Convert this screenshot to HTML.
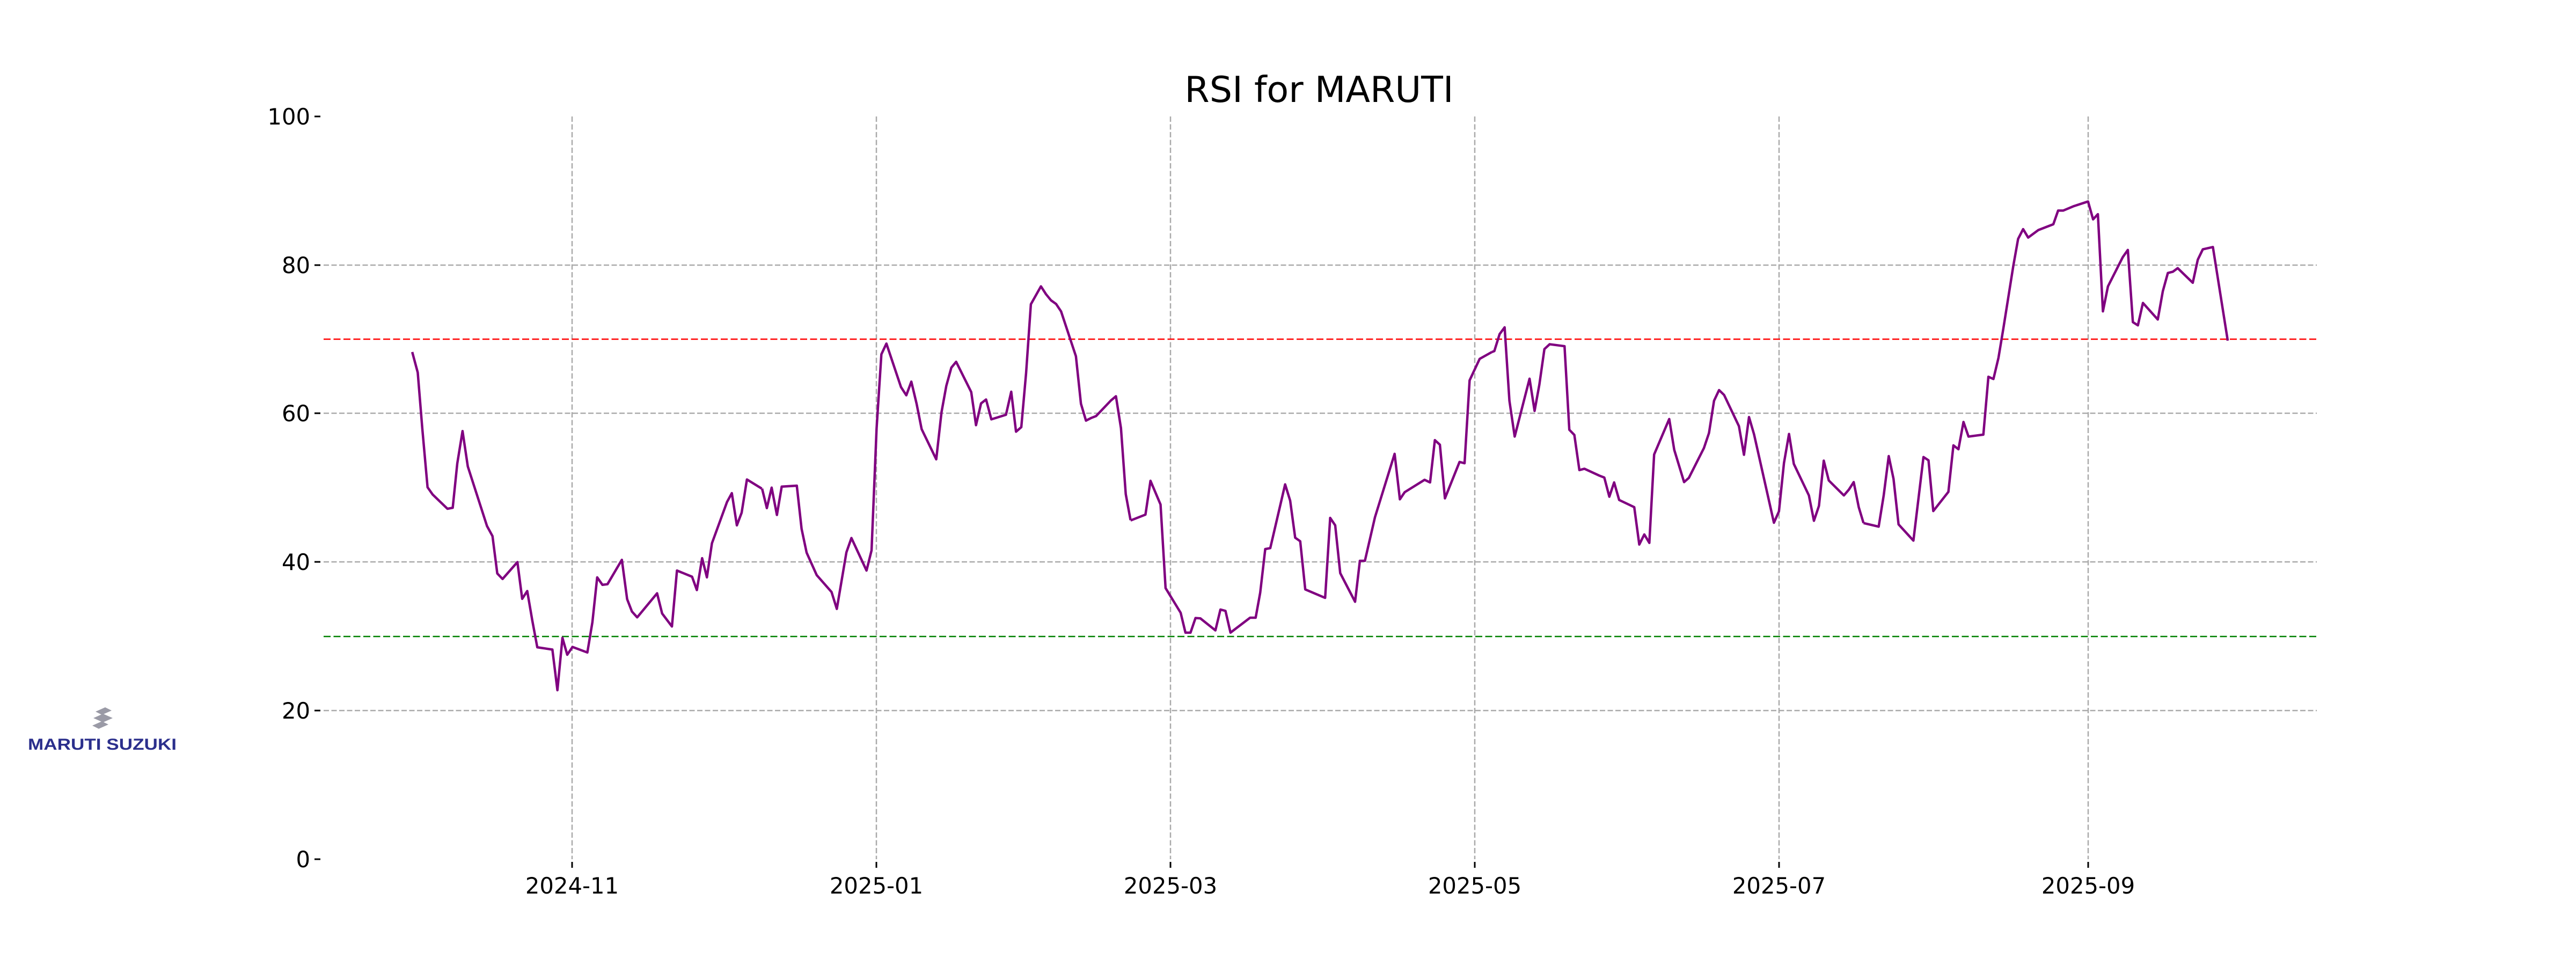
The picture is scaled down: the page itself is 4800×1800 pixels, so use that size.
<!DOCTYPE html>
<html><head><meta charset="utf-8"><style>
html,body{margin:0;padding:0;background:#fff;}
svg{display:block;}
</style></head><body>
<svg width="4800" height="1800" viewBox="0 0 4800 1800" xmlns="http://www.w3.org/2000/svg" font-family="'DejaVu Sans','Liberation Sans',sans-serif">
<rect width="4800" height="1800" fill="#fff"/>
<text x="2458" y="190" font-size="66.7" text-anchor="middle" fill="#000">RSI for MARUTI</text>
<!-- horizontal grid -->
<g stroke="#aaaaaa" stroke-width="2.5" stroke-dasharray="10,4.5" fill="none">
<line x1="603" y1="494" x2="4317" y2="494"/>
<line x1="603" y1="770" x2="4317" y2="770"/>
<line x1="603" y1="1047" x2="4317" y2="1047"/>
<line x1="603" y1="1324" x2="4317" y2="1324"/>
<line x1="1066" y1="217" x2="1066" y2="1601"/>
<line x1="1633" y1="217" x2="1633" y2="1601"/>
<line x1="2181" y1="217" x2="2181" y2="1601"/>
<line x1="2748" y1="217" x2="2748" y2="1601"/>
<line x1="3315" y1="217" x2="3315" y2="1601"/>
<line x1="3891" y1="217" x2="3891" y2="1601"/>
</g>
<line x1="603" y1="632" x2="4317" y2="632" stroke="#ff0000" stroke-width="2.5" stroke-dasharray="13,5.5"/>
<line x1="603" y1="1186" x2="4317" y2="1186" stroke="#008000" stroke-width="2.5" stroke-dasharray="13,5.5"/>
<!-- y ticks -->
<g font-size="41.7" fill="#000" text-anchor="end">
<text x="578" y="232">100</text>
<text x="578" y="509">80</text>
<text x="578" y="785">60</text>
<text x="578" y="1062">40</text>
<text x="578" y="1339">20</text>
<text x="578" y="1616">0</text>
</g>
<g stroke="#000" stroke-width="3">
<line x1="586" y1="217" x2="597" y2="217"/>
<line x1="586" y1="494" x2="597" y2="494"/>
<line x1="586" y1="770" x2="597" y2="770"/>
<line x1="586" y1="1047" x2="597" y2="1047"/>
<line x1="586" y1="1324" x2="597" y2="1324"/>
<line x1="586" y1="1601" x2="597" y2="1601"/>
<line x1="1066" y1="1606" x2="1066" y2="1617"/>
<line x1="1633" y1="1606" x2="1633" y2="1617"/>
<line x1="2181" y1="1606" x2="2181" y2="1617"/>
<line x1="2748" y1="1606" x2="2748" y2="1617"/>
<line x1="3315" y1="1606" x2="3315" y2="1617"/>
<line x1="3891" y1="1606" x2="3891" y2="1617"/>
</g>
<g font-size="41.7" fill="#000" text-anchor="middle">
<text x="1066" y="1665">2024-11</text>
<text x="1633" y="1665">2025-01</text>
<text x="2181" y="1665">2025-03</text>
<text x="2748" y="1665">2025-05</text>
<text x="3315" y="1665">2025-07</text>
<text x="3891" y="1665">2025-09</text>
</g>
<!-- series -->
<g fill="none" stroke="#800080" stroke-width="4.5" stroke-linejoin="round">
<polyline vector-effect="non-scaling-stroke" transform="translate(740,350) scale(0.44643,0.60588)" points="63,505 86,568 105,740 127,921 148,943 210,987 232,984 251,848 273,748 295,857 375,1040 398,1071 418,1186 440,1203 502,1151 522,1264 543,1240 564,1330 585,1413 648,1420 669,1545 690,1384 710,1436 732,1412 794,1429 815,1336 835,1198 857,1221 878,1219 938,1144 960,1265 980,1303 1002,1321 1085,1247 1106,1309 1147,1349 1168,1177 1231,1196 1251,1237 1273,1139 1293,1198 1314,1093 1377,966 1397,939 1418,1038 1438,999 1460,897 1522,925"/>
<polyline vector-effect="non-scaling-stroke" transform="translate(1420,350) scale(0.44643,0.60588)" points="0,925 20,985 40,922 62,1006 82,919 145,916 165,1049 186,1122 228,1191 290,1243 312,1295 352,1121 373,1077 436,1177 457,1115 478,740 498,512 519,479 580,613 602,638 623,596 645,664 666,742 727,835 749,690 769,609 790,553 810,535 873,628 893,730 914,663 935,651 957,712 1018,698 1040,627 1060,750 1082,736 1102,570 1122,358 1164,303 1185,327 1206,346 1227,357 1248,380 1310,518 1331,664 1352,716 1373,708 1394,702 1456,654 1477,641 1498,739 1518,942 1538,1022"/>
<polyline vector-effect="non-scaling-stroke" transform="translate(2100,350) scale(0.44643,0.60588)" points="15,1023 77,1005 98,901 140,974 161,1231 224,1307 244,1368 265,1368 286,1323 306,1324 369,1361 390,1297 411,1301 432,1368 514,1322 537,1322 556,1245 577,1111 598,1108 660,912 681,962 702,1076 723,1087 744,1235 827,1261 848,1015 869,1038 890,1185 952,1273 972,1147 993,1147 1035,1013 1117,818 1139,958 1159,936 1242,898 1265,906 1285,776 1306,790 1327,955 1388,843 1409,847 1430,592 1472,526 1523,505"/>
<polyline vector-effect="non-scaling-stroke" transform="translate(2780,350) scale(0.44643,0.60588)" points="0,505 10,502 32,450 53,429 73,655 95,765 157,587 178,686 198,605 219,496 241,481 303,487 323,744 344,760 365,868 386,864 448,885 469,891 490,950 510,906 531,960 594,982 615,1097 636,1066 657,1092 677,820 740,711 761,806 802,905 822,892 885,800 906,754 927,655 948,622 969,637 1031,733 1052,821 1073,705 1094,758 1177,1030 1198,995 1219,846 1240,757 1260,849 1323,946 1344,1024 1365,978 1385,839 1406,900 1469,946 1490,928 1510,905 1531,982 1551,1031"/>
<polyline vector-effect="non-scaling-stroke" transform="translate(3460,350) scale(0.44643,0.60588)" points="28,1031 91,1042 112,946 133,825 153,895 174,1035 236,1085 278,828 299,838 319,994 382,935 403,792 424,804 445,720 466,765 528,759 549,581 570,588 591,523 612,430 653,240 673,157 694,127 715,153 757,130 778,124 820,112 840,70 861,70 903,57 965,42 986,97 1006,81 1027,380 1048,303 1110,213 1131,191 1152,413 1173,423 1194,354 1256,405 1277,318 1298,262 1319,258 1339,247 1402,292 1423,221 1444,189 1486,182 1548,470"/>
</g>
<!-- logo -->
<g fill="#9a9aa6">
<polygon points="178,1326 196,1318 208,1324 190,1332"/>
<polygon points="174,1338 192,1330 210,1338 192,1346"/>
<polygon points="172,1352 190,1344 202,1350 184,1358"/>
</g>
<text x="52" y="1397" font-family="'Liberation Sans',sans-serif" font-weight="bold" font-size="30" fill="#2b2f8c" textLength="277" lengthAdjust="spacingAndGlyphs">MARUTI SUZUKI</text>
</svg>
</body></html>
